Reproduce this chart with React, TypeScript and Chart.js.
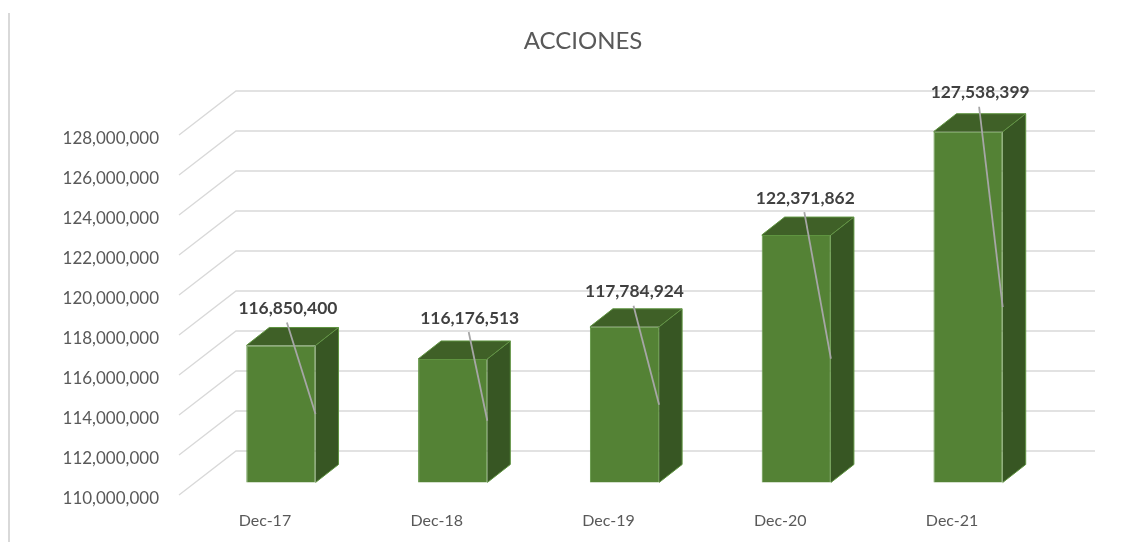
import React, { useEffect, useRef } from "react";
import { Chart, registerables } from "chart.js";

Chart.register(...registerables);

const TITLE = "ACCIONES";
const categories = ["Dec-17", "Dec-18", "Dec-19", "Dec-20", "Dec-21"];
const shares = [116850400, 116176513, 117784924, 122371862, 127538399];
const axisMin = 110000000;
const axisMax = 128000000;
const axisStep = 2000000;

const FONT = "Lato, Carlito, sans-serif";
const fmt = (v: number) => Number(v).toLocaleString("en-US");

// 3D projection of the plot (pixels)
const GRID_SHIFT_Y = -3.5;
const WALL_DX = 57;
const WALL_DY = -44;
const BAR_SHIFT_X = 16;
const BAR_SHIFT_Y = -16;
const BAR_DX = 23;
const BAR_DY = -18;
// label placement relative to the top centre of each bar's front face
const labelDX = [7, 17, 10, 9, 12];
const labelDY = [-37, -41, -35, -37, -39];

const scene = {
  id: "scene",
  beforeDraw(chart: any) {
    const { ctx } = chart;
    ctx.save();
    ctx.strokeStyle = "#d9d9d9";
    ctx.lineWidth = 2;
    ctx.beginPath();
    ctx.moveTo(9, 13);
    ctx.lineTo(9, 542);
    ctx.stroke();
    ctx.restore();
  },
  beforeDatasetsDraw(chart: any) {
    const { ctx, chartArea, scales } = chart;
    const y = scales.y;
    ctx.save();
    ctx.strokeStyle = "#d9d9d9";
    ctx.lineWidth = 1.4;
    y.ticks.forEach((t: any) => {
      const py = y.getPixelForValue(t.value) + GRID_SHIFT_Y;
      ctx.beginPath();
      ctx.moveTo(chartArea.left, py);
      ctx.lineTo(chartArea.left + WALL_DX, py + WALL_DY);
      ctx.lineTo(chartArea.right + WALL_DX, py + WALL_DY);
      ctx.stroke();
    });
    ctx.restore();
  },
  beforeDatasetDraw(chart: any) {
    const { ctx } = chart;
    const meta = chart.getDatasetMeta(0);
    ctx.save();
    ctx.translate(BAR_SHIFT_X, BAR_SHIFT_Y);
    meta.data.forEach((el: any) => {
      const l = el.x - el.width / 2;
      const r = el.x + el.width / 2;
      const top = el.y;
      const base = el.base;
      ctx.fillStyle = "#375623";
      ctx.beginPath();
      ctx.moveTo(r, top);
      ctx.lineTo(r + BAR_DX, top + BAR_DY);
      ctx.lineTo(r + BAR_DX, base + BAR_DY);
      ctx.lineTo(r, base);
      ctx.closePath();
      ctx.fill();
      ctx.fillStyle = "#3f6027";
      ctx.beginPath();
      ctx.moveTo(l, top);
      ctx.lineTo(l + BAR_DX, top + BAR_DY);
      ctx.lineTo(r + BAR_DX, top + BAR_DY);
      ctx.lineTo(r, top);
      ctx.closePath();
      ctx.fill();
      ctx.strokeStyle = "#5f9440";
      ctx.lineWidth = 1;
      ctx.beginPath();
      ctx.moveTo(l, top);
      ctx.lineTo(l + BAR_DX, top + BAR_DY);
      ctx.lineTo(r + BAR_DX, top + BAR_DY);
      ctx.lineTo(r + BAR_DX, base + BAR_DY);
      ctx.lineTo(r, base);
      ctx.moveTo(r, top);
      ctx.lineTo(r + BAR_DX, top + BAR_DY);
      ctx.stroke();
    });
  },
  afterDatasetDraw(chart: any) {
    chart.ctx.restore();
  },
  afterDatasetsDraw(chart: any) {
    const { ctx } = chart;
    const meta = chart.getDatasetMeta(0);
    ctx.save();
    meta.data.forEach((el: any, i: number) => {
      const cx = el.x + BAR_SHIFT_X + labelDX[i];
      const cy = el.y + BAR_SHIFT_Y + labelDY[i];
      ctx.strokeStyle = "#a6a6a6";
      ctx.lineWidth = 1.8;
      ctx.beginPath();
      ctx.moveTo(cx - 1, cy + 14);
      ctx.lineTo(
        el.x + BAR_SHIFT_X + el.width / 2,
        (el.y + el.base) / 2 + BAR_SHIFT_Y
      );
      ctx.stroke();
      ctx.fillStyle = "#404040";
      ctx.font = `bold 17.4px ${FONT}`;
      ctx.textAlign = "center";
      ctx.textBaseline = "middle";
      ctx.fillText(fmt(shares[i]), cx, cy);
    });
    ctx.restore();
  },
};

export default function App() {
  const ref = useRef<HTMLCanvasElement>(null);
  useEffect(() => {
    const chart = new Chart(ref.current as HTMLCanvasElement, {
      type: "bar",
      data: {
        labels: categories,
        datasets: [
          {
            label: TITLE,
            data: shares,
            base: axisMin,
            backgroundColor: "#548235",
            borderColor: "#5f9440",
            borderWidth: 1,
            categoryPercentage: 0.403,
            barPercentage: 1,
            clip: false,
          } as any,
        ],
      },
      options: {
        responsive: false,
        animation: false,
        layout: { padding: { left: 24, right: 0, top: 0, bottom: 0 } },
        plugins: {
          legend: { display: false },
          tooltip: { enabled: false },
          title: {
            display: true,
            text: TITLE,
            color: "#595959",
            font: { family: FONT, size: 24, weight: "normal", lineHeight: 1.2 },
            padding: { top: 27, bottom: 82.7 },
          },
        },
        scales: {
          x: {
            grid: { display: false, drawTicks: false },
            border: { display: false },
            ticks: {
              color: "#595959",
              font: { family: FONT, size: 16 },
              padding: 12.5,
              maxRotation: 0,
            },
            afterFit(scale: any) {
              scale.height = 43.5;
            },
          },
          y: {
            min: axisMin,
            max: axisMax,
            grid: { display: false, drawTicks: false },
            border: { display: false },
            ticks: {
              stepSize: axisStep,
              color: "#595959",
              font: { family: FONT, size: 17 },
              padding: 20,
              callback: (v: any) => fmt(v),
            },
            afterFit(scale: any) {
              scale.width = 155;
            },
          },
          rightGutter: {
            position: "right",
            min: axisMin,
            max: axisMax,
            grid: { display: false, drawTicks: false },
            border: { display: false },
            ticks: { display: false },
            afterFit(scale: any) {
              scale.width = 104;
            },
          },
        },
      },
      plugins: [scene],
    } as any);
    return () => chart.destroy();
  }, []);
  return (
    <div style={{ position: "fixed", left: 0, top: 0, width: 1142, height: 542, background: "#fff" }}>
      <canvas ref={ref} width={1142} height={542} style={{ display: "block" }} />
    </div>
  );
}
